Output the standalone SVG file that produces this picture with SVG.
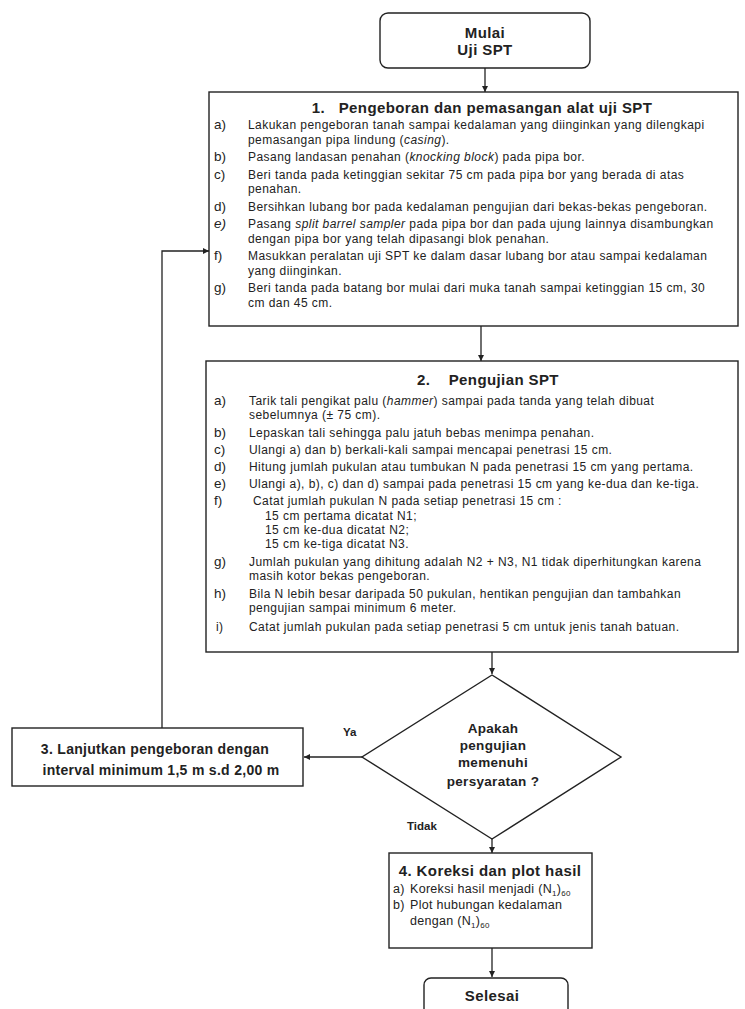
<svg xmlns="http://www.w3.org/2000/svg" width="745" height="1009" viewBox="0 0 745 1009">
<style>
.box{fill:#fff;stroke:#222;stroke-width:1.4}
.ln{fill:none;stroke:#222;stroke-width:1.3}
.t{font-family:"Liberation Sans",Arial,sans-serif;fill:#222}
.b{font-weight:bold}
.body{font-size:12px;letter-spacing:0.45px}
.lab{font-size:13.5px;letter-spacing:0}
.ttl{font-size:15px;font-weight:bold;letter-spacing:0.4px}
</style>
<defs>
<marker id="ah" viewBox="0 0 10 10" refX="10" refY="5" markerWidth="6" markerHeight="6" orient="auto" markerUnits="userSpaceOnUse">
<path d="M0,0 L10,5 L0,10 z" fill="#222"/>
</marker>
</defs>
<rect width="745" height="1009" fill="#fff"/>

<g id="connectors">
<line class="ln" x1="485" y1="68" x2="485" y2="92" marker-end="url(#ah)"/>
<line class="ln" x1="481" y1="326" x2="481" y2="361" marker-end="url(#ah)"/>
<line class="ln" x1="492" y1="652" x2="492" y2="674" marker-end="url(#ah)"/>
<line class="ln" x1="362" y1="757" x2="304" y2="757" marker-end="url(#ah)"/>
<polyline class="ln" points="162,728 162,251 209,251" marker-end="url(#ah)"/>
<line class="ln" x1="492" y1="837" x2="492" y2="853" marker-end="url(#ah)"/>
<line class="ln" x1="492" y1="948" x2="492" y2="977" marker-end="url(#ah)"/>
<text class="t b" x="343" y="736" font-size="11.5">Ya</text>
<text class="t b" x="407" y="830" font-size="11.5">Tidak</text>
</g>

<g id="start">
<rect class="box" x="380" y="13" width="210" height="55" rx="8"/>
<text class="t ttl" x="485" y="38" text-anchor="middle">Mulai</text>
<text class="t ttl" x="485" y="55" text-anchor="middle">Uji SPT</text>
</g>

<g id="step1">
<rect class="box" x="209" y="92" width="529" height="234"/>
<text class="t ttl" x="482" y="113" text-anchor="middle" xml:space="preserve">1.   Pengeboran dan pemasangan alat uji SPT</text>
<g class="t body">
<text class="lab" x="214" y="129">a)</text>
<text x="248" y="129">Lakukan pengeboran tanah sampai kedalaman yang diinginkan yang dilengkapi</text>
<text x="248" y="143.5">pemasangan pipa lindung (<tspan font-style="italic">casing</tspan>).</text>
<text class="lab" x="214" y="161">b)</text>
<text x="248" y="161">Pasang landasan penahan (<tspan font-style="italic">knocking block</tspan>) pada pipa bor.</text>
<text class="lab" x="214" y="178.5">c)</text>
<text x="248" y="178.5">Beri tanda pada ketinggian sekitar 75 cm pada pipa bor yang berada di atas</text>
<text x="248" y="193">penahan.</text>
<text class="lab" x="214" y="210.5">d)</text>
<text x="248" y="210.5">Bersihkan lubang bor pada kedalaman pengujian dari bekas-bekas pengeboran.</text>
<text class="lab" x="214" y="228" font-style="italic">e)</text>
<text x="248" y="228">Pasang <tspan font-style="italic">split barrel sampler</tspan> pada pipa bor dan pada ujung lainnya disambungkan</text>
<text x="248" y="242.5">dengan pipa bor yang telah dipasangi blok penahan.</text>
<text class="lab" x="214" y="260">f)</text>
<text x="248" y="260">Masukkan peralatan uji SPT ke dalam dasar lubang bor atau sampai kedalaman</text>
<text x="248" y="274.5">yang diinginkan.</text>
<text class="lab" x="214" y="292">g)</text>
<text x="248" y="292">Beri tanda pada batang bor mulai dari muka tanah sampai ketinggian 15 cm, 30</text>
<text x="248" y="306.5">cm dan 45 cm.</text>
</g>
</g>

<g id="step2">
<rect class="box" x="206" y="361" width="532" height="291"/>
<text class="t ttl" x="488" y="385" text-anchor="middle" xml:space="preserve">2.    Pengujian SPT</text>
<g class="t body">
<text class="lab" x="214" y="405">a)</text>
<text x="249" y="405">Tarik tali pengikat palu (<tspan font-style="italic">hammer</tspan>) sampai pada tanda yang telah dibuat</text>
<text x="249" y="419">sebelumnya (± 75 cm).</text>
<text class="lab" x="214" y="437">b)</text>
<text x="249" y="437">Lepaskan tali sehingga palu jatuh bebas menimpa penahan.</text>
<text class="lab" x="214" y="454">c)</text>
<text x="249" y="454">Ulangi a) dan b) berkali-kali sampai mencapai penetrasi 15 cm.</text>
<text class="lab" x="214" y="471">d)</text>
<text x="249" y="471">Hitung jumlah pukulan atau tumbukan N pada penetrasi 15 cm yang pertama.</text>
<text class="lab" x="214" y="488">e)</text>
<text x="249" y="488">Ulangi a), b), c) dan d) sampai pada penetrasi 15 cm yang ke-dua dan ke-tiga.</text>
<text class="lab" x="214" y="505">f)</text>
<text x="253" y="505">Catat jumlah pukulan N pada setiap penetrasi 15 cm :</text>
<text x="265" y="520">15 cm pertama dicatat N1;</text>
<text x="265" y="534">15 cm ke-dua dicatat N2;</text>
<text x="265" y="548">15 cm ke-tiga dicatat N3.</text>
<text class="lab" x="214" y="566">g)</text>
<text x="249" y="566">Jumlah pukulan yang dihitung adalah N2 + N3, N1 tidak diperhitungkan karena</text>
<text x="249" y="580">masih kotor bekas pengeboran.</text>
<text class="lab" x="214" y="598">h)</text>
<text x="249" y="598">Bila N lebih besar daripada 50 pukulan, hentikan pengujian dan tambahkan</text>
<text x="249" y="612">pengujian sampai minimum 6 meter.</text>
<text x="216" y="631">i)</text>
<text x="249" y="631">Catat jumlah pukulan pada setiap penetrasi 5 cm untuk jenis tanah batuan.</text>
</g>
</g>

<g id="decision">
<polygon class="box" points="492,675 621,757 492,839 362,757"/>
<g class="t b" font-size="13.5" text-anchor="middle" letter-spacing="0.3">
<text x="493" y="733">Apakah</text>
<text x="493" y="750">pengujian</text>
<text x="493" y="767">memenuhi</text>
<text x="493" y="786">persyaratan ?</text>
</g>
</g>

<g id="step3">
<rect class="box" x="12" y="728" width="291" height="58" stroke-width="2"/>
<g class="t b" font-size="14" text-anchor="middle" letter-spacing="0.3">
<text x="155" y="754">3. Lanjutkan pengeboran dengan</text>
<text x="161" y="775">interval minimum 1,5 m s.d 2,00 m</text>
</g>
</g>

<g id="step4">
<rect class="box" x="389" y="853" width="203" height="95"/>
<text class="t ttl" x="490" y="876" text-anchor="middle" font-size="15.5">4. Koreksi dan plot hasil</text>
<g class="t" font-size="12.5" letter-spacing="0.3">
<text x="393" y="893">a)</text>
<text x="410" y="893">Koreksi hasil menjadi (N<tspan font-size="8" dy="3">1</tspan><tspan dy="-3">)</tspan><tspan font-size="8" dy="3">60</tspan></text>
<text x="393" y="909">b)</text>
<text x="410" y="909">Plot hubungan kedalaman</text>
<text x="410" y="925">dengan (N<tspan font-size="8" dy="3">1</tspan><tspan dy="-3">)</tspan><tspan font-size="8" dy="3">60</tspan></text>
</g>
</g>

<g id="end">
<rect class="box" x="424" y="978" width="144" height="45" rx="7"/>
<text class="t ttl" x="492" y="1001" text-anchor="middle">Selesai</text>
</g>
</svg>
